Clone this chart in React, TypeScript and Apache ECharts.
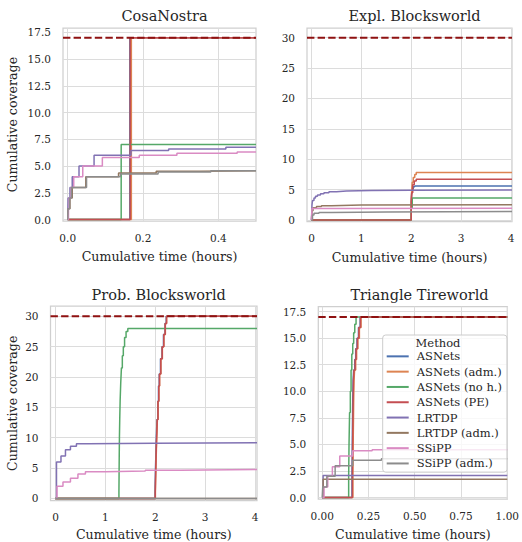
import React, { useEffect, useRef } from "react";
import * as echarts from "echarts";

// ---------- Methods & colours ----------
const methods = [
  "ASNets",
  "ASNets (adm.)",
  "ASNets (no h.)",
  "ASNets (PE)",
  "LRTDP",
  "LRTDP (adm.)",
  "SSiPP",
  "SSiPP (adm.)",
];
const methodColors = [
  "#4C72B0",
  "#DD8452",
  "#55A868",
  "#C44E52",
  "#8172B3",
  "#937860",
  "#DA8BC3",
  "#8C8C8C",
];

// ---------- Panel titles & ticks ----------
const panelTitles = ["CosaNostra", "Expl. Blocksworld", "Prob. Blocksworld", "Triangle Tireworld"];
const maxCoverage = [17, 30, 30, 17];
const cosaXTicks = [0, 0.2, 0.4];
const cosaYTicks = [0, 2.5, 5, 7.5, 10, 12.5, 15, 17.5];
const explXTicks = [0, 1, 2, 3, 4];
const explYTicks = [0, 5, 10, 15, 20, 25, 30];
const probXTicks = [0, 1, 2, 3, 4];
const probYTicks = [0, 5, 10, 15, 20, 25, 30];
const tireXTicks = [0, 0.25, 0.5, 0.75, 1.0];
const tireYTicks = [0, 2.5, 5, 7.5, 10, 12.5, 15, 17.5];

// ---------- CosaNostra (time in hours, cumulative coverage) ----------
const cosaAsnets = [[0, 0], [0.165, 17], [0.5, 17]];
const cosaAsnetsAdm = [[0, 0], [0.169, 17], [0.5, 17]];
const cosaAsnetsNoH = [[0, 0], [0.142, 7], [0.5, 7]];
const cosaAsnetsPE = [[0, 0], [0.166, 17], [0.5, 17]];
const cosaLrtdp = [[0, 0], [0.001, 2], [0.006, 3], [0.012, 4], [0.03, 5], [0.07, 6], [0.168, 6.45], [0.268, 6.6], [0.42, 6.75], [0.5, 6.75]];
const cosaLrtdpAdm = [[0, 0], [0.001, 1], [0.006, 2], [0.012, 3], [0.048, 4], [0.135, 4.35], [0.235, 4.5], [0.35, 4.55], [0.5, 4.55]];
const cosaSsipp = [[0, 0], [0.002, 1], [0.004, 2], [0.009, 3], [0.016, 4], [0.04, 5], [0.092, 5.8], [0.19, 6.0], [0.29, 6.2], [0.45, 6.3], [0.5, 6.3]];
const cosaSsippAdm = [[0, 0], [0.001, 1], [0.005, 2], [0.01, 3], [0.05, 4], [0.14, 4.25], [0.24, 4.45], [0.38, 4.55], [0.5, 4.55]];

// ---------- Expl. Blocksworld ----------
const explAsnets = [[0, 0], [2.0, 3], [2.01, 4.5], [2.02, 5.1], [2.04, 5.45], [2.07, 5.6], [4.02, 5.6]];
const explAsnetsAdm = [[0, 0], [2.0, 3], [2.01, 5], [2.02, 6.2], [2.04, 7], [2.07, 7.5], [2.1, 7.8], [4.02, 7.8]];
const explAsnetsNoH = [[0, 0], [2.0, 2], [2.02, 3.6], [4.02, 3.6]];
const explAsnetsPE = [[0, 0], [2.0, 3], [2.01, 4.5], [2.03, 5.8], [2.06, 6.4], [2.1, 6.7], [4.02, 6.7]];
const explLrtdp = [[0, 0], [0.01, 2.5], [0.02, 3.2], [0.05, 3.6], [0.08, 3.9], [0.12, 4.1], [0.18, 4.3], [0.25, 4.5], [0.35, 4.65], [0.5, 4.75], [0.7, 4.85], [1.2, 4.9], [2.0, 4.95], [4.02, 4.95]];
const explLrtdpAdm = [[0, 0], [0.01, 1.5], [0.03, 2.0], [0.1, 2.2], [0.2, 2.35], [0.4, 2.45], [1.0, 2.5], [4.02, 2.5]];
const explSsipp = [[0, 0], [0.01, 1.9], [0.5, 1.95], [4.02, 1.95]];
const explSsippAdm = [[0, 0], [0.02, 0.8], [0.05, 1.1], [0.15, 1.25], [0.4, 1.32], [1.5, 1.38], [4.02, 1.4]];

// ---------- Prob. Blocksworld ----------
const probAsnets = [[0, 0], [1.995, 1], [2.0, 3], [2.005, 5], [2.015, 8], [2.022, 10], [2.035, 13], [2.05, 16], [2.065, 18.5], [2.08, 20.5], [2.105, 23], [2.135, 25], [2.165, 27], [2.195, 28.8], [2.22, 30], [4.04, 30]];
const probAsnetsAdm = [[0, 0], [2.003, 1], [2.008, 3], [2.013, 5], [2.023, 8], [2.03, 10], [2.043, 13], [2.058, 16], [2.073, 18.5], [2.088, 20.5], [2.113, 23], [2.143, 25], [2.173, 27], [2.203, 28.8], [2.228, 30], [4.04, 30]];
const probAsnetsNoH = [[0, 0], [1.272, 1], [1.275, 4], [1.278, 7], [1.282, 10], [1.288, 13], [1.296, 16], [1.308, 19], [1.322, 21.5], [1.34, 23.5], [1.36, 25], [1.385, 26.5], [1.415, 27.5], [1.45, 28], [4.04, 28]];
const probAsnetsPE = [[0, 0], [2.0, 1], [2.005, 3], [2.01, 5], [2.02, 8], [2.027, 10], [2.04, 13], [2.055, 16], [2.07, 18.5], [2.085, 20.5], [2.11, 23], [2.14, 25], [2.17, 27], [2.2, 28.8], [2.226, 30], [4.04, 30]];
const probLrtdp = [[0, 0], [0.02, 6], [0.11, 7], [0.2, 8], [0.3, 8.6], [0.42, 9], [0.65, 9.1], [2.0, 9.15], [4.04, 9.2]];
const probLrtdpAdm = [[0, 0], [4.04, 0]];
const probSsipp = [[0, 0], [0.03, 2], [0.15, 2.7], [0.3, 3.3], [0.45, 4.0], [0.6, 4.4], [1.0, 4.5], [1.8, 4.65], [2.5, 4.75], [4.04, 4.8]];
const probSsippAdm = [[0, 0], [4.04, 0]];

// ---------- Triangle Tireworld ----------
const tireAsnets = [[0, 0], [0.161, 2], [0.163, 6], [0.165, 9], [0.167, 11], [0.17, 12], [0.176, 13], [0.181, 14], [0.188, 15], [0.196, 16], [0.205, 17], [1.0, 17]];
const tireAsnetsAdm = [[0, 0], [0.166, 2], [0.168, 6], [0.17, 9], [0.172, 11], [0.175, 12], [0.181, 13], [0.186, 14], [0.193, 15], [0.201, 16], [0.21, 17], [1.0, 17]];
const tireAsnetsNoH = [[0, 0], [0.143, 2], [0.145, 5], [0.148, 8], [0.152, 10], [0.156, 12], [0.16, 13.5], [0.165, 14.5], [0.17, 15.5], [0.176, 16.3], [0.183, 17], [1.0, 17]];
const tireAsnetsPE = [[0, 0], [0.163, 2], [0.165, 6], [0.167, 9], [0.169, 11], [0.172, 12], [0.178, 13], [0.183, 14], [0.19, 15], [0.198, 16], [0.207, 17], [1.0, 17]];
const tireLrtdp = [[0, 0], [0.005, 2.08], [1.0, 2.08]];
const tireLrtdpAdm = [[0, 0], [0.005, 1.73], [1.0, 1.73]];
const tireSsipp = [[0, 0], [0.01, 1], [0.03, 2], [0.055, 2.9], [0.095, 3.9], [0.165, 4.4], [0.27, 4.5], [1.0, 4.55]];
const tireSsippAdm = [[0, 0], [0.003, 1], [0.025, 2], [0.07, 3], [0.165, 3.5], [0.32, 3.65], [1.0, 3.7]];

const panelData = [
  [cosaAsnets, cosaAsnetsAdm, cosaAsnetsNoH, cosaAsnetsPE, cosaLrtdp, cosaLrtdpAdm, cosaSsipp, cosaSsippAdm],
  [explAsnets, explAsnetsAdm, explAsnetsNoH, explAsnetsPE, explLrtdp, explLrtdpAdm, explSsipp, explSsippAdm],
  [probAsnets, probAsnetsAdm, probAsnetsNoH, probAsnetsPE, probLrtdp, probLrtdpAdm, probSsipp, probSsippAdm],
  [tireAsnets, tireAsnetsAdm, tireAsnetsNoH, tireAsnetsPE, tireLrtdp, tireLrtdpAdm, tireSsipp, tireSsippAdm],
];
const panelXTicks = [cosaXTicks, explXTicks, probXTicks, tireXTicks];
const panelYTicks = [cosaYTicks, explYTicks, probYTicks, tireYTicks];

// ---------- layout (pixels) ----------
const grids = [
  { left: 63, top: 28, width: 193, height: 193 },
  { left: 307, top: 28, width: 205, height: 193.5 },
  { left: 50.5, top: 306, width: 206.5, height: 195.5 },
  { left: 318.3, top: 306.7, width: 192.4, height: 193.8 },
];
const xRanges = [[-0.0125, 0.5], [-0.09, 4.02], [-0.1, 4.04], [-0.021, 1.0]];
const yRanges = [[-0.14, 17.9], [-0.25, 31.6], [-0.35, 31.7], [-0.14, 17.96]];
const xDecimals = [1, 0, 0, 2];
const yDecimals = [1, 0, 0, 1];

const FONT = "DejaVu Serif";
const TEXT = "#262626";
const GRIDC = "#dcdcdc";

function buildOption() {
  const xAxis: any[] = [];
  const yAxis: any[] = [];
  const series: any[] = [];
  const title: any[] = [];
  for (let p = 0; p < 4; p++) {
    const g = grids[p];
    title.push({
      text: panelTitles[p],
      left: g.left + g.width / 2,
      top: p < 2 ? 3 : 282,
      textAlign: "center",
      textStyle: { fontFamily: FONT, fontSize: 14.5, fontWeight: "normal", color: TEXT },
    });
    xAxis.push({
      type: "value",
      gridIndex: p,
      min: xRanges[p][0],
      max: xRanges[p][1],
      axisLine: { show: false },
      axisTick: { show: false, customValues: panelXTicks[p] },
      axisLabel: {
        customValues: panelXTicks[p],
        formatter: (v: number) => v.toFixed(xDecimals[p]),
        fontFamily: FONT,
        fontSize: 10.5,
        color: TEXT,
        margin: 11,
      },
      splitLine: { show: true, lineStyle: { color: GRIDC, width: 1 } },
      name: "Cumulative time (hours)",
      nameLocation: "middle",
      nameGap: p === 2 ? 27.5 : 29,
      nameTextStyle: { fontFamily: FONT, fontSize: 12.6, color: TEXT },
    });
    yAxis.push({
      type: "value",
      gridIndex: p,
      min: yRanges[p][0],
      max: yRanges[p][1],
      axisLine: { show: false },
      axisTick: { show: false, customValues: panelYTicks[p] },
      axisLabel: {
        customValues: panelYTicks[p],
        formatter: (v: number) => v.toFixed(yDecimals[p]),
        fontFamily: FONT,
        fontSize: 10.5,
        color: TEXT,
        margin: 12,
      },
      splitLine: { show: true, lineStyle: { color: GRIDC, width: 1 } },
      name: p % 2 === 0 ? "Cumulative coverage" : "",
      nameLocation: "middle",
      nameGap: p === 0 ? 44.5 : 32,
      nameTextStyle: { fontFamily: FONT, fontSize: 12.6, color: TEXT },
    });
    for (let m = 0; m < methods.length; m++) {
      series.push({
        type: "line",
        name: methods[m],
        xAxisIndex: p,
        yAxisIndex: p,
        data: panelData[p][m],
        step: "end",
        symbol: "none",
        showSymbol: false,
        clip: true,
        color: methodColors[m],
        lineStyle: { color: methodColors[m], width: 1.5 },
        itemStyle: { color: methodColors[m] },
        emphasis: { disabled: true },
        z: 2,
      });
    }
    series.push({
      type: "line",
      name: "max",
      xAxisIndex: p,
      yAxisIndex: p,
      data: [
        [xRanges[p][0], maxCoverage[p]],
        [xRanges[p][1], maxCoverage[p]],
      ],
      symbol: "none",
      showSymbol: false,
      lineStyle: { color: "#8f1111", width: 2, type: [7.4, 3.2] },
      emphasis: { disabled: true },
      z: 3,
    });
  }

  return {
    animation: false,
    backgroundColor: "#ffffff",
    textStyle: { fontFamily: FONT },
    title,
    grid: grids.map((g) => ({
      ...g,
      show: true,
      borderColor: "#cfcfcf",
      borderWidth: 1.25,
      backgroundColor: "transparent",
      containLabel: false,
    })),
    xAxis,
    yAxis,
    legend: {
      data: methods,
      orient: "vertical",
      left: 382.7,
      top: 335,
      padding: [14.6, 5, 2, 4],
      itemWidth: 22,
      itemHeight: 2,
      itemGap: 1.8,
      icon: "rect",
      selectedMode: false,
      backgroundColor: "rgba(255,255,255,0.8)",
      borderColor: "#cccccc",
      borderWidth: 1,
      borderRadius: 3,
      textStyle: { fontFamily: FONT, fontSize: 11.5, color: TEXT, lineHeight: 13.5, padding: [0, 0, 0, 3] },
      z: 10,
    },
    graphic: [
      {
        type: "text",
        x: 438,
        y: 343.3,
        z: 100,
        style: {
          text: "Method",
          textAlign: "center",
          textVerticalAlign: "middle",
          font: `11.5px "${FONT}"`,
          fill: TEXT,
        },
      },
    ],
    series,
  };
}

export default function App() {
  const ref = useRef<HTMLDivElement>(null);
  useEffect(() => {
    if (!ref.current) return;
    const chart = echarts.init(ref.current, null, { renderer: "svg" });
    chart.setOption(buildOption() as any);
    return () => chart.dispose();
  }, []);
  return <div ref={ref} style={{ width: 522, height: 542, position: "absolute", left: 0, top: 0 }} />;
}
